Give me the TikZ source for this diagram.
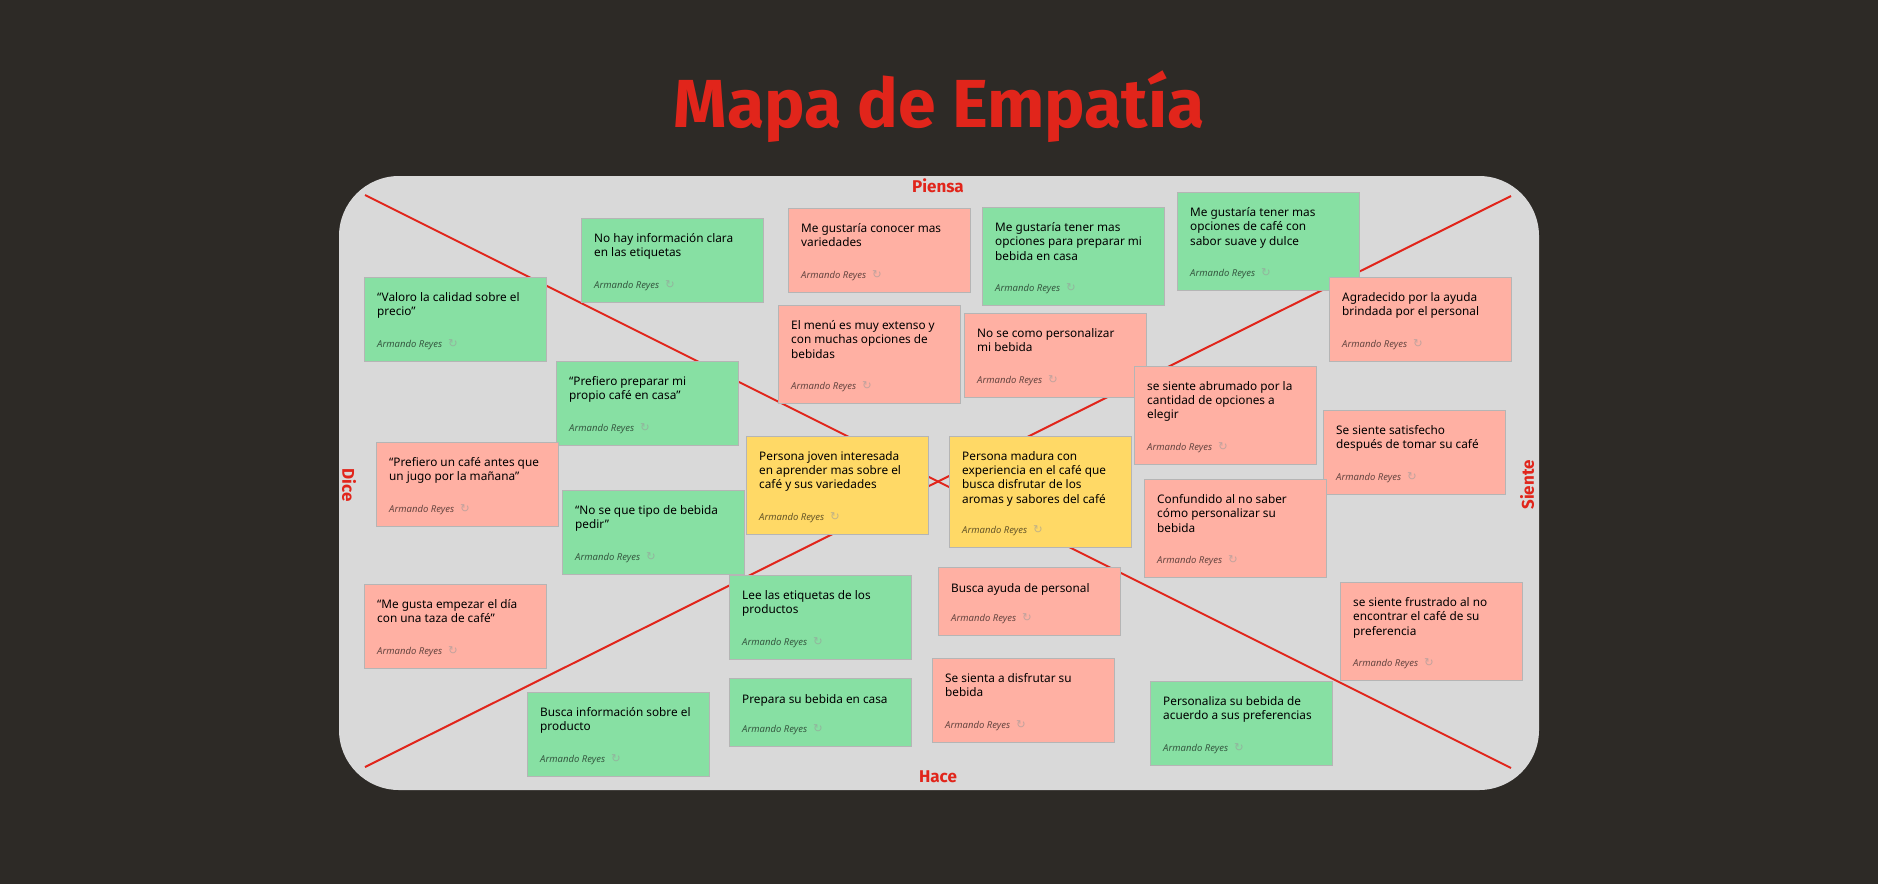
\documentclass[tikz,border=0pt]{standalone}
\usepackage{fontspec}
\setmainfont{Noto Sans}
\newfontfamily\titlefont{Fira Sans}
\newfontfamily\iconfont{DejaVu Sans}
\usepackage{xcolor}
\usepackage{tikz}
\usetikzlibrary{positioning}

\definecolor{bgdark}{HTML}{2D2A26}
\definecolor{board}{HTML}{D9D9D9}
\definecolor{mapred}{HTML}{E1251B}
\definecolor{notegreen}{HTML}{87E0A3}
\definecolor{notepink}{HTML}{FFB0A3}
\definecolor{noteyellow}{HTML}{FFD966}
\definecolor{noteline}{HTML}{B5B5B5}

\newcommand{\byline}{Armando Reyes\hspace{6pt}{\upshape\iconfont\fontsize{11.5}{11}\selectfont\color{black!40}↻}}

\begin{document}
\begin{tikzpicture}[x=1pt, y=-1pt,
  note/.style={rectangle, draw=noteline, line width=1.2pt, anchor=north west, minimum width=182pt, inner sep=0pt},
  idea/.style={inner sep=0pt, align=left, font=\fontsize{11.8}{14.4}\selectfont, execute at begin node=\strut},
  byl/.style={inner sep=0pt, font=\fontsize{9.5}{11}\selectfont\itshape, text=black, text opacity=0.6, text height=7pt, text depth=2.5pt},
  side/.style={font=\titlefont\fontsize{17}{17}\selectfont\bfseries, text=mapred},
  title/.style={anchor=base, font=\titlefont\bfseries\fontsize{68}{68}\selectfont, text=mapred},
  mapline/.style={draw=mapred, line width=2pt}]

  \useasboundingbox (0,0) rectangle (1878,884);
  \fill[bgdark] (0,0) rectangle (1878,884);

  % board
  \fill[board, rounded corners=60pt] (339,176) rectangle (1539,790);
  \coordinate (tl) at (365,195);
  \coordinate (br) at (1511,768);
  \coordinate (bl) at (365,767);
  \coordinate (tr) at (1511,196);
  \draw[mapline] (tl) -- (br);
  \draw[mapline] (bl) -- (tr);

  \node[title] (title) at (939,127) {Mapa de Empatía};
  \node[side] (piensa) at (938,186) {Piensa};
  \node[side] (hace) at (938,777) {Hace};
  \node[side, rotate=-90] (dice) at (349,485) {Dice};
  \node[side, rotate=90] (siente) at (1527,485) {Siente};

  % notes
  \node[note, fill=notegreen, minimum height=84pt] (n1) at (581,218) {};
  \node[idea, below right=15pt and 13pt of n1.north west] (n1t) {No hay información clara\\en las etiquetas};
  \node[byl, above right=12pt and 13pt of n1.south west] (n1a) {\byline};

  \node[note, fill=notepink, minimum height=84pt] (n2) at (788,208) {};
  \node[idea, below right=15pt and 13pt of n2.north west] (n2t) {Me gustaría conocer mas\\variedades};
  \node[byl, above right=12pt and 13pt of n2.south west] (n2a) {\byline};

  \node[note, fill=notegreen, minimum height=98pt] (n3) at (982,207) {};
  \node[idea, below right=15pt and 13pt of n3.north west] (n3t) {Me gustaría tener mas\\opciones para preparar mi\\bebida en casa};
  \node[byl, above right=12pt and 13pt of n3.south west] (n3a) {\byline};

  \node[note, fill=notegreen, minimum height=98pt] (n4) at (1177,192) {};
  \node[idea, below right=15pt and 13pt of n4.north west] (n4t) {Me gustaría tener mas\\opciones de café con\\sabor suave y dulce};
  \node[byl, above right=12pt and 13pt of n4.south west] (n4a) {\byline};

  \node[note, fill=notepink, minimum height=84pt] (n5) at (1329,277) {};
  \node[idea, below right=15pt and 13pt of n5.north west] (n5t) {Agradecido por la ayuda\\brindada por el personal};
  \node[byl, above right=12pt and 13pt of n5.south west] (n5a) {\byline};

  \node[note, fill=notegreen, minimum height=84pt] (n6) at (364,277) {};
  \node[idea, below right=15pt and 13pt of n6.north west] (n6t) {“Valoro la calidad sobre el\\precio”};
  \node[byl, above right=12pt and 13pt of n6.south west] (n6a) {\byline};

  \node[note, fill=notepink, minimum height=98pt] (n7) at (778,305) {};
  \node[idea, below right=15pt and 13pt of n7.north west] (n7t) {El menú es muy extenso y\\con muchas opciones de\\bebidas};
  \node[byl, above right=12pt and 13pt of n7.south west] (n7a) {\byline};

  \node[note, fill=notepink, minimum height=84pt] (n8) at (964,313) {};
  \node[idea, below right=15pt and 13pt of n8.north west] (n8t) {No se como personalizar\\mi bebida};
  \node[byl, above right=12pt and 13pt of n8.south west] (n8a) {\byline};

  \node[note, fill=notegreen, minimum height=84pt] (n9) at (556,361) {};
  \node[idea, below right=15pt and 13pt of n9.north west] (n9t) {“Prefiero preparar mi\\propio café en casa”};
  \node[byl, above right=12pt and 13pt of n9.south west] (n9a) {\byline};

  \node[note, fill=notepink, minimum height=98pt] (n10) at (1134,366) {};
  \node[idea, below right=15pt and 13pt of n10.north west] (n10t) {se siente abrumado por la\\cantidad de opciones a\\elegir};
  \node[byl, above right=12pt and 13pt of n10.south west] (n10a) {\byline};

  \node[note, fill=notepink, minimum height=84pt] (n11) at (1323,410) {};
  \node[idea, below right=15pt and 13pt of n11.north west] (n11t) {Se siente satisfecho\\después de tomar su café};
  \node[byl, above right=12pt and 13pt of n11.south west] (n11a) {\byline};

  \node[note, fill=notepink, minimum height=84pt] (n12) at (376,442) {};
  \node[idea, below right=15pt and 13pt of n12.north west] (n12t) {“Prefiero un café antes que\\un jugo por la mañana”};
  \node[byl, above right=12pt and 13pt of n12.south west] (n12a) {\byline};

  \node[note, fill=noteyellow, minimum height=98pt] (n13) at (746,436) {};
  \node[idea, below right=15pt and 13pt of n13.north west] (n13t) {Persona joven interesada\\en aprender mas sobre el\\café y sus variedades};
  \node[byl, above right=12pt and 13pt of n13.south west] (n13a) {\byline};

  \node[note, fill=noteyellow, minimum height=111pt] (n14) at (949,436) {};
  \node[idea, below right=15pt and 13pt of n14.north west] (n14t) {Persona madura con\\experiencia en el café que\\busca disfrutar de los\\aromas y sabores del café};
  \node[byl, above right=12pt and 13pt of n14.south west] (n14a) {\byline};

  \node[note, fill=notegreen, minimum height=84pt] (n15) at (562,490) {};
  \node[idea, below right=15pt and 13pt of n15.north west] (n15t) {“No se que tipo de bebida\\pedir”};
  \node[byl, above right=12pt and 13pt of n15.south west] (n15a) {\byline};

  \node[note, fill=notepink, minimum height=98pt] (n16) at (1144,479) {};
  \node[idea, below right=15pt and 13pt of n16.north west] (n16t) {Confundido al no saber\\cómo personalizar su\\bebida};
  \node[byl, above right=12pt and 13pt of n16.south west] (n16a) {\byline};

  \node[note, fill=notepink, minimum height=68pt] (n17) at (938,567) {};
  \node[idea, below right=15pt and 13pt of n17.north west] (n17t) {Busca ayuda de personal};
  \node[byl, above right=12pt and 13pt of n17.south west] (n17a) {\byline};

  \node[note, fill=notegreen, minimum height=84pt] (n18) at (729,575) {};
  \node[idea, below right=15pt and 13pt of n18.north west] (n18t) {Lee las etiquetas de los\\productos};
  \node[byl, above right=12pt and 13pt of n18.south west] (n18a) {\byline};

  \node[note, fill=notepink, minimum height=84pt] (n19) at (364,584) {};
  \node[idea, below right=15pt and 13pt of n19.north west] (n19t) {“Me gusta empezar el día\\con una taza de café”};
  \node[byl, above right=12pt and 13pt of n19.south west] (n19a) {\byline};

  \node[note, fill=notepink, minimum height=98pt] (n20) at (1340,582) {};
  \node[idea, below right=15pt and 13pt of n20.north west] (n20t) {se siente frustrado al no\\encontrar el café de su\\preferencia};
  \node[byl, above right=12pt and 13pt of n20.south west] (n20a) {\byline};

  \node[note, fill=notepink, minimum height=84pt] (n21) at (932,658) {};
  \node[idea, below right=15pt and 13pt of n21.north west] (n21t) {Se sienta a disfrutar su\\bebida};
  \node[byl, above right=12pt and 13pt of n21.south west] (n21a) {\byline};

  \node[note, fill=notegreen, minimum height=68pt] (n22) at (729,678) {};
  \node[idea, below right=15pt and 13pt of n22.north west] (n22t) {Prepara su bebida en casa};
  \node[byl, above right=12pt and 13pt of n22.south west] (n22a) {\byline};

  \node[note, fill=notegreen, minimum height=84pt] (n23) at (527,692) {};
  \node[idea, below right=15pt and 13pt of n23.north west] (n23t) {Busca información sobre el\\producto};
  \node[byl, above right=12pt and 13pt of n23.south west] (n23a) {\byline};

  \node[note, fill=notegreen, minimum height=84pt] (n24) at (1150,681) {};
  \node[idea, below right=15pt and 13pt of n24.north west] (n24t) {Personaliza su bebida de\\acuerdo a sus preferencias};
  \node[byl, above right=12pt and 13pt of n24.south west] (n24a) {\byline};
\end{tikzpicture}
\end{document}
